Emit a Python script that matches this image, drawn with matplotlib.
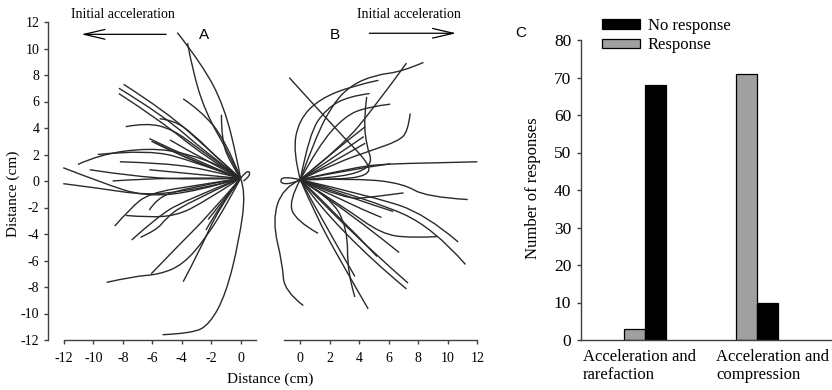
import matplotlib
matplotlib.use("Agg")
import matplotlib.pyplot as plt
from matplotlib.path import Path
from matplotlib.patches import PathPatch

plt.rcParams["font.family"] = ["Liberation Serif", "DejaVu Serif"]
plt.rcParams["axes.unicode_minus"] = False

# ── Data ───────────────────────────────────────────────────────
# Panel A: escape trajectories (cm), initial acceleration to the left
traj_a = [
    [(-4.3, 11.2), (-2.6, 8.8), (-1.1, 5.6), (-0.2, 1.5), (0, 0.2)],
    [(-3.6, 10.4), (-3.3, 8.5), (-2.4, 5.2), (-0.8, 2.1), (0, 0.2)],
    [(-7.95, 7.3), (-5.0, 5.2), (-2.0, 2.2), (0, 0.2)],
    [(-8.27, 7.0), (-5.3, 5.0), (-2.2, 2.0), (0, 0.2)],
    [(-8.27, 6.6), (-5.5, 4.6), (-2.5, 1.9), (0, 0.2)],
    [(-3.9, 6.2), (-2.8, 5.4), (-1.0, 3.1), (0, 0.2)],
    [(-1.3, 5.0), (-1.3, 3.0), (-0.6, 1.2), (0, 0.2)],
    [(-7.8, 4.1), (-6.4, 4.4), (-4.6, 3.9), (-2.8, 2.4), (0, 0.2)],
    [(-5.5, 4.7), (-4.6, 4.6), (-3.25, 3.6), (-1.2, 1.3), (0, 0.2)],
    [(-6.2, 3.2), (-3.0, 1.5), (0, 0.2)],
    [(-6.05, 3.0), (-3.0, 1.3), (0, 0.2)],
    [(-5.8, 2.9), (-3.0, 1.3), (0, 0.2)],
    [(-4.8, 3.1), (-2.5, 1.6), (0, 0.2)],
    [(-11.05, 1.25), (-9.6, 2.0), (-6.2, 2.5), (-3.7, 2.1), (-1.0, 1.0), (0, 0.2)],
    [(-9.7, 2.0), (-6.2, 2.4), (-3.0, 1.4), (0, 0.2)],
    [(-8.2, 1.45), (-5.05, 1.35), (-2.0, 0.8), (0, 0.2)],
    [(-12.05, 1.0), (-9.5, -0.1), (-6.5, -1.2), (-3.0, -0.8), (0, 0.2)],
    [(-12.05, -0.2), (-9.6, -0.55), (-6.6, -1.05), (-3.9, -0.8), (-0.5, 0.0), (0, 0.2)],
    [(-10.25, 0.85), (-7.0, 0.3), (-3.0, 0.1), (0, 0.2)],
    [(-8.7, 0.0), (-5.0, 0.3), (0, 0.2)],
    [(-6.2, 0.85), (-3.0, 0.5), (0, 0.2)],
    [(0, 0.2), (0.5, 0.9), (0.7, 0.4), (0.2, 0.0)],
    [(-8.55, -3.4), (-7.5, -2.07), (-6.2, -0.9), (-2.8, -0.3), (0, 0.2)],
    [(-7.8, -2.6), (-6.2, -2.75), (-4.4, -2.6), (-2.8, -1.8), (0, 0.2)],
    [(-7.4, -4.45), (-5.75, -2.8), (-3.9, -1.5), (0, 0.2)],
    [(-6.8, -4.25), (-5.7, -3.7), (-5.05, -2.8), (-3.9, -1.8), (0, 0.2)],
    [(-6.2, -2.2), (-5.7, -1.3), (-4.0, -0.6), (0, 0.2)],
    [(-9.1, -7.65), (-7.3, -7.2), (-5.5, -7.05), (-3.9, -6.3), (-2.35, -4.3), (-0.8, -1.5), (0, 0.2)],
    [(-6.07, -7.0), (-3.9, -4.5), (-2.35, -2.8), (0, 0.2)],
    [(-3.9, -7.6), (-2.8, -5.3), (-1.45, -2.0), (0, 0.2)],
    [(-2.35, -3.7), (-1.5, -2.0), (0, 0.2)],
    [(-2.2, -2.9), (-1.2, -1.5), (0, 0.2)],
    [(-5.3, -11.6), (-3.25, -11.5), (-2.1, -10.8), (-1.0, -8.55), (-0.1, -4.5), (0.36, -0.8), (0, 0.2)],
]

# Panel B: escape trajectories (cm), initial acceleration to the right
traj_b = [
    [(-0.75, 7.8), (2.5, 3.8), (4.7, 1.3), (4.6, 0.4), (2.5, 0.1), (0, 0.1)],
    [(8.35, 8.95), (6.9, 8.25), (5.05, 8.0), (3.4, 7.2), (2.2, 5.8), (1.0, 3.2), (0, 0.1)],
    [(7.2, 8.9), (5.05, 5.6), (2.8, 2.6), (0, 0.1)],
    [(0, 0.1), (-0.5, 2.2), (-0.1, 4.6), (1.3, 6.2), (3.6, 7.2), (5.3, 7.6)],
    [(4.7, 6.6), (3.3, 6.4), (1.8, 5.5), (0.6, 3.6), (0, 0.1)],
    [(6.1, 5.8), (4.6, 5.6), (3.0, 4.9), (1.2, 2.6), (0, 0.1)],
    [(4.5, 6.35), (4.3, 4.6), (4.5, 2.6), (4.9, 1.4), (4.0, 0.6), (1.7, 0.2), (0, 0.1)],
    [(7.45, 5.1), (7.3, 3.7), (6.6, 3.0), (4.8, 2.3), (2.5, 1.4), (0, 0.1)],
    [(12.0, 1.45), (8.45, 1.35), (6.2, 1.3), (3.9, 1.1), (0, 0.1)],
    [(4.4, 4.1), (2.0, 2.0), (0, 0.1)],
    [(4.3, 3.35), (2.0, 1.6), (0, 0.1)],
    [(4.4, 2.85), (2.0, 1.3), (0, 0.1)],
    [(6.1, 1.3), (3.0, 0.8), (0, 0.1)],
    [(0, 0.1), (-1.2, 0.4), (-1.4, -0.2), (-0.5, -0.2), (0, 0.1)],
    [(0, 0.1), (-1.2, -0.5), (-1.9, -3.0), (-1.2, -6.3), (-1.1, -8.3), (0.2, -9.4)],
    [(0, 0.1), (-0.8, -1.5), (-0.3, -3.0), (1.2, -3.95)],
    [(0, 0.1), (2.0, -1.2), (3.2, -3.5), (3.2, -7.0), (3.7, -8.75)],
    [(0, 0.1), (1.0, -2.5), (2.8, -6.2), (4.6, -9.65)],
    [(0, 0.1), (1.5, -3.0), (3.7, -7.2)],
    [(0, 0.1), (3.0, -3.5), (7.3, -7.7)],
    [(0, 0.1), (2.5, -3.8), (7.2, -8.15)],
    [(0, 0.1), (2.5, -2.5), (5.2, -5.7)],
    [(0, 0.1), (3.5, -2.5), (6.7, -5.4)],
    [(0, 0.1), (3.0, -1.6), (5.5, -2.75)],
    [(0, 0.1), (3.5, -1.3), (6.3, -2.3)],
    [(0, 0.1), (3.0, -2.0), (5.5, -4.0), (7.5, -4.3), (9.25, -4.2)],
    [(0, 0.1), (5.0, -1.2), (8.5, -2.5), (10.7, -4.6)],
    [(0, 0.1), (5.0, -1.5), (9.0, -3.5), (11.2, -6.3)],
    [(0, 0.1), (4.0, 0.2), (7.0, -0.2), (8.5, -1.2), (11.35, -1.4)],
    [(0, 0.1), (3.0, -1.4), (5.0, -1.2), (7.0, -0.9)],
]

# Panel C: counts
categories = ["Acceleration and\nrarefaction", "Acceleration and\ncompression"]
response = [3, 71]
no_response = [68, 10]

ticks_a_x = list(range(-12, 1, 2))
ticks_b_x = list(range(0, 13, 2))
ticks_y = list(range(-12, 13, 2))
ticks_c_y = list(range(0, 81, 10))

LINE = "#2a2a2a"
SPINE = "#404040"


def smooth_path(pts):
    # quadratic B-spline through the control points
    verts = [pts[0]]
    codes = [Path.MOVETO]
    if len(pts) == 2:
        verts.append(pts[1])
        codes.append(Path.LINETO)
        return Path(verts, codes)
    n = len(pts)
    for i in range(1, n - 1):
        if i == n - 2:
            end = pts[n - 1]
        else:
            end = ((pts[i][0] + pts[i + 1][0]) / 2, (pts[i][1] + pts[i + 1][1]) / 2)
        verts += [pts[i], end]
        codes += [Path.CURVE3, Path.CURVE3]
    return Path(verts, codes)


def style_axis(ax):
    for s in ax.spines.values():
        s.set_color(SPINE)
        s.set_linewidth(1.0)
    ax.tick_params(direction="out", length=3, width=1.0, color=SPINE)


def draw_tracks(ax, tracks):
    for tr in tracks:
        ax.add_patch(PathPatch(smooth_path(tr), fill=False, edgecolor=LINE,
                               lw=1.0, clip_on=False))


fig = plt.figure(figsize=(8.32, 3.9), dpi=100)

# ── Panel A ────────────────────────────────────────────────────
axA = fig.add_axes([47.8 / 832, 50 / 390, (256 - 47.8) / 832, 318 / 390])
draw_tracks(axA, traj_a)
axA.set_xlim(-13.1, 1.05)
axA.set_ylim(-12, 12)
axA.spines["top"].set_visible(False)
axA.spines["right"].set_visible(False)
axA.spines["bottom"].set_bounds(-12, 1.05)
style_axis(axA)
axA.set_xticks(ticks_a_x)
axA.set_yticks(ticks_y)
axA.tick_params(axis="x", labelsize=10, pad=6)
axA.tick_params(axis="y", labelsize=10, pad=3)
axA.annotate("", xy=(-10.82, 11.07), xytext=(-5.06, 11.07),
             arrowprops=dict(arrowstyle="->,head_length=1.5,head_width=0.35",
                             color="black", lw=0.9, shrinkA=0, shrinkB=0),
             annotation_clip=False)

# ── Panel B ────────────────────────────────────────────────────
axB = fig.add_axes([284.1 / 832, 50 / 390, (477.3 - 284.1) / 832, 318 / 390])
draw_tracks(axB, traj_b)
axB.set_xlim(-1.1, 12)
axB.set_ylim(-12, 12)
for s in ["top", "right", "left"]:
    axB.spines[s].set_visible(False)
style_axis(axB)
axB.set_xticks(ticks_b_x)
axB.set_yticks([])
axB.tick_params(axis="x", labelsize=10, pad=6)
axB.annotate("", xy=(10.56, 11.15), xytext=(4.68, 11.15),
             arrowprops=dict(arrowstyle="->,head_length=1.5,head_width=0.35",
                             color="black", lw=0.9, shrinkA=0, shrinkB=0),
             annotation_clip=False)

# ── Panel C ────────────────────────────────────────────────────
axC = fig.add_axes([581 / 832, 50 / 390, (832 - 581) / 832, 300 / 390])
x = [0, 1]
w = 0.19
b_gray = axC.bar([i - w / 2 for i in x], response, width=w, color="#a0a0a0",
                 edgecolor="black", linewidth=0.9, label="Response")
b_black = axC.bar([i + w / 2 for i in x], no_response, width=w, color="black",
                  edgecolor="black", linewidth=0.9, label="No response")
axC.set_xlim(-0.571, 1.67)
axC.set_ylim(0, 80)
axC.spines["top"].set_visible(False)
axC.spines["right"].set_visible(False)
style_axis(axC)
axC.set_yticks(ticks_c_y)
axC.tick_params(axis="y", labelsize=12.5, pad=4)
axC.set_xticks([])
for xpos, lab in zip([-0.554, 0.634], categories):
    axC.text(xpos, -0.03, lab, transform=axC.get_xaxis_transform(),
             ha="left", va="top", fontsize=12, linespacing=1.15)
fig.legend([b_black, b_gray], ["No response", "Response"],
           loc="upper left", bbox_to_anchor=(601.7 / 832, 372 / 390),
           frameon=False, fontsize=12, handlelength=2.3, handleheight=0.5,
           handletextpad=0.45, labelspacing=0.2, borderpad=0, borderaxespad=0)

# ── Labels ─────────────────────────────────────────────────────
fig.text(13 / 832, 1 - 194 / 390, "Distance (cm)", rotation=90,
         ha="center", va="center", fontsize=11)
fig.text(270 / 832, 1 - 379 / 390, "Distance (cm)", ha="center", va="center", fontsize=11)
fig.text(533 / 832, 1 - 188 / 390, "Number of responses", rotation=90,
         ha="center", va="center", fontsize=12)
fig.text(123 / 832, 1 - 14 / 390, "Initial acceleration", ha="center", va="center", fontsize=10)
fig.text(409 / 832, 1 - 14 / 390, "Initial acceleration", ha="center", va="center", fontsize=10)
for lx, ly, letter in [(204, 35, "A"), (335, 35, "B"), (521, 33, "C")]:
    fig.text(lx / 832, 1 - ly / 390, letter, ha="center", va="center", fontsize=11,
             family=["Liberation Sans", "DejaVu Sans"])

plt.savefig("out.png", dpi=100)
